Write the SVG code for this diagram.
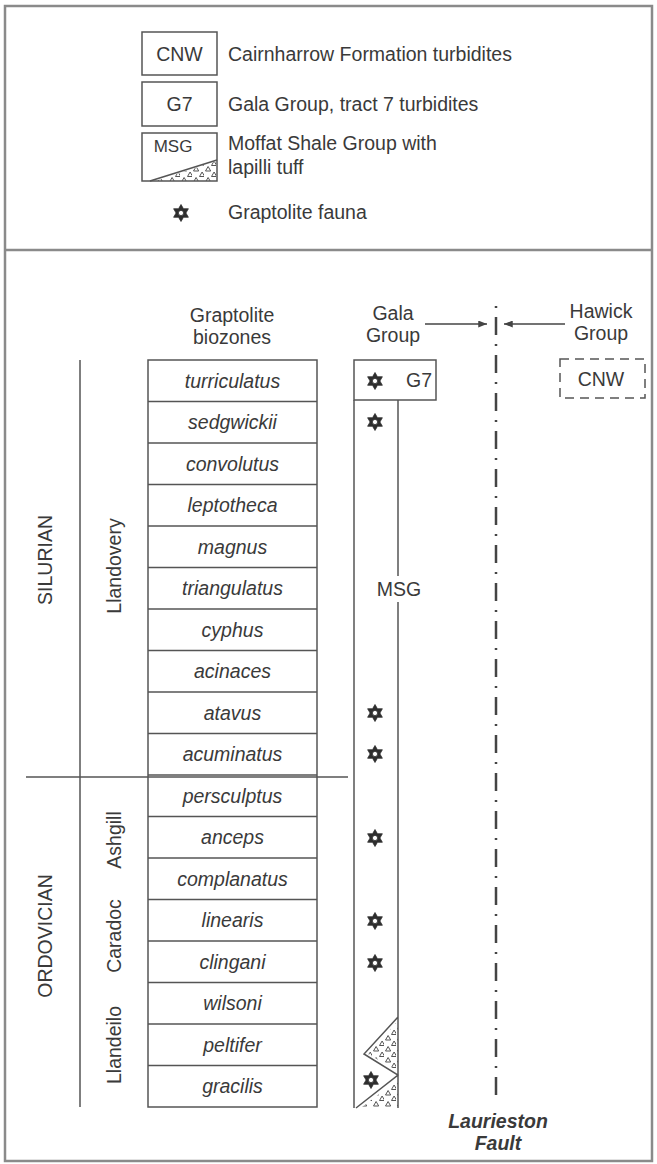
<svg xmlns="http://www.w3.org/2000/svg" width="657" height="1164" viewBox="0 0 657 1164">
<style>
text{font-family:"Liberation Sans",Arial,sans-serif;font-size:19.5px;fill:#3a3a3a}
.it{font-style:italic;text-anchor:middle}
.mid{text-anchor:middle}
.ln{stroke:#555;stroke-width:1.5;fill:none}
.frame{stroke:#8a8a8a;stroke-width:2.5;fill:none}
.box{stroke:#555;stroke-width:1.5;fill:#fff}
.tuff{fill:url(#tuff);stroke:none}
</style>
<defs>
<pattern id="tuff" patternUnits="userSpaceOnUse" width="12" height="11">
<path d="M1.5,6 l2.6,-4.5 l2.6,4.5 z M7.5,11.5 l2.6,-4.5 l2.6,4.5 z M7.5,0.5 l2.6,-4.5 l2.6,4.5 z" fill="none" stroke="#555" stroke-width="1"/>
</pattern>
<path id="star" fill-rule="evenodd" fill="#2e2e2e" stroke="#2e2e2e" stroke-width="0.8" stroke-linejoin="round" d="M0,-8.5 L2.45,-4.25 L7.36,-4.25 L4.9,0 L7.36,4.25 L2.45,4.25 L0,8.5 L-2.45,4.25 L-7.36,4.25 L-4.9,0 L-7.36,-4.25 L-2.45,-4.25 Z M2.6,0 A2.6,2.6 0 1,0 -2.6,0 A2.6,2.6 0 1,0 2.6,0 Z"/>
<marker id="ah" viewBox="0 0 10 8" refX="10" refY="4" markerWidth="9" markerHeight="7" markerUnits="userSpaceOnUse" orient="auto">
<path d="M0,0 L10,4 L0,8 Z" fill="#444"/>
</marker>
</defs>
<rect width="657" height="1164" fill="#fff"/>
<g id="frame">
<rect class="frame" x="5" y="6" width="647" height="1155"/>
<line class="frame" x1="5" y1="250" x2="652" y2="250"/>
</g>
<g id="legend">
<g id="leg-cnw">
<rect class="box" x="142" y="32" width="75" height="43"/>
<text class="mid" x="179.5" y="61">CNW</text>
<text x="228" y="61">Cairnharrow Formation turbidites</text>
</g>
<g id="leg-g7">
<rect class="box" x="142" y="82" width="75" height="44"/>
<text class="mid" x="179.5" y="111">G7</text>
<text x="228" y="111">Gala Group, tract 7 turbidites</text>
</g>
<g id="leg-msg">
<rect class="box" x="142" y="133" width="75" height="48"/>
<polygon class="tuff" points="155,181 217,161 217,181"/>
<line class="ln" x1="150" y1="181" x2="217" y2="160"/>
<text class="mid" x="173" y="152" style="font-size:17px">MSG</text>
<text x="228" y="150">Moffat Shale Group with</text>
<text x="228" y="174">lapilli tuff</text>
</g>
<g id="leg-star">
<use href="#star" x="181" y="213"/>
<text x="228" y="219">Graptolite fauna</text>
</g>
</g>
<g id="headers">
<text class="mid" x="232" y="322">Graptolite</text>
<text class="mid" x="232" y="344">biozones</text>
<text class="mid" x="393" y="320">Gala</text>
<text class="mid" x="393" y="342">Group</text>
<text class="mid" x="601" y="318">Hawick</text>
<text class="mid" x="601" y="340">Group</text>
</g>
<g id="periods">
<line class="ln" x1="80" y1="360" x2="80" y2="1107"/>
<line class="ln" x1="26" y1="777" x2="348" y2="777"/>
<text class="mid" transform="translate(52,560) rotate(-90)">SILURIAN</text>
<text class="mid" transform="translate(121,566) rotate(-90)">Llandovery</text>
<text class="mid" transform="translate(52,936) rotate(-90)">ORDOVICIAN</text>
<text class="mid" transform="translate(121,840) rotate(-90)">Ashgill</text>
<text class="mid" transform="translate(121,936) rotate(-90)">Caradoc</text>
<text class="mid" transform="translate(121,1045) rotate(-90)">Llandeilo</text>
</g>
<g id="biozones">
<rect class="ln" x="148" y="360" width="169" height="747"/>
<path class="ln" d="M148,401.5H317M148,443H317M148,484.5H317M148,526H317M148,567.5H317M148,609H317M148,650.5H317M148,692H317M148,733.5H317M148,775H317M148,816.5H317M148,858H317M148,899.5H317M148,941H317M148,982.5H317M148,1024H317M148,1065.5H317"/>
<text class="it" x="232.5" y="387.5">turriculatus</text>
<text class="it" x="232.5" y="429">sedgwickii</text>
<text class="it" x="232.5" y="470.5">convolutus</text>
<text class="it" x="232.5" y="512">leptotheca</text>
<text class="it" x="232.5" y="553.5">magnus</text>
<text class="it" x="232.5" y="595">triangulatus</text>
<text class="it" x="232.5" y="636.5">cyphus</text>
<text class="it" x="232.5" y="678">acinaces</text>
<text class="it" x="232.5" y="719.5">atavus</text>
<text class="it" x="232.5" y="761">acuminatus</text>
<text class="it" x="232.5" y="802.5">persculptus</text>
<text class="it" x="232.5" y="844">anceps</text>
<text class="it" x="232.5" y="885.5">complanatus</text>
<text class="it" x="232.5" y="927">linearis</text>
<text class="it" x="232.5" y="968.5">clingani</text>
<text class="it" x="232.5" y="1010">wilsoni</text>
<text class="it" x="232.5" y="1051.5">peltifer</text>
<text class="it" x="232.5" y="1093">gracilis</text>
</g>
<g id="gala-g7">
<rect class="box" x="354" y="360" width="82" height="40"/>
<text class="mid" x="419" y="387">G7</text>
<use href="#star" x="375" y="381"/>
</g>
<g id="gala-msg">
<polygon class="tuff" points="398,1021 368,1054 398,1071"/>
<polygon class="tuff" points="398,1080 362,1107 398,1107"/>
<path class="ln" d="M354,400V1108M398,400V576M398,602V1108M398,1017L364,1054L398,1075L356,1108"/>
<text class="mid" x="399" y="596">MSG</text>
<use href="#star" x="375" y="422"/>
<use href="#star" x="375" y="713"/>
<use href="#star" x="375" y="754"/>
<use href="#star" x="375" y="838"/>
<use href="#star" x="375" y="921"/>
<use href="#star" x="375" y="963"/>
<use href="#star" x="371" y="1080"/>
</g>
<g id="hawick-cnw">
<rect x="560" y="359" width="85" height="39" fill="none" stroke="#555" stroke-width="1.5" stroke-dasharray="9 6"/>
<text class="mid" x="601" y="386">CNW</text>
</g>
<g id="fault">
<line x1="496" y1="306" x2="496" y2="1095" stroke="#444" stroke-width="2.5" stroke-dasharray="2 9 18 9"/>
<text class="mid" x="498" y="1128" style="font-weight:bold;font-style:italic">Laurieston</text>
<text class="mid" x="498" y="1150" style="font-weight:bold;font-style:italic">Fault</text>
</g>
<g id="connectors">
<line x1="425" y1="324" x2="487" y2="324" stroke="#444" stroke-width="1.3" marker-end="url(#ah)"/>
<line x1="565" y1="324" x2="504" y2="324" stroke="#444" stroke-width="1.3" marker-end="url(#ah)"/>
</g>
</svg>
